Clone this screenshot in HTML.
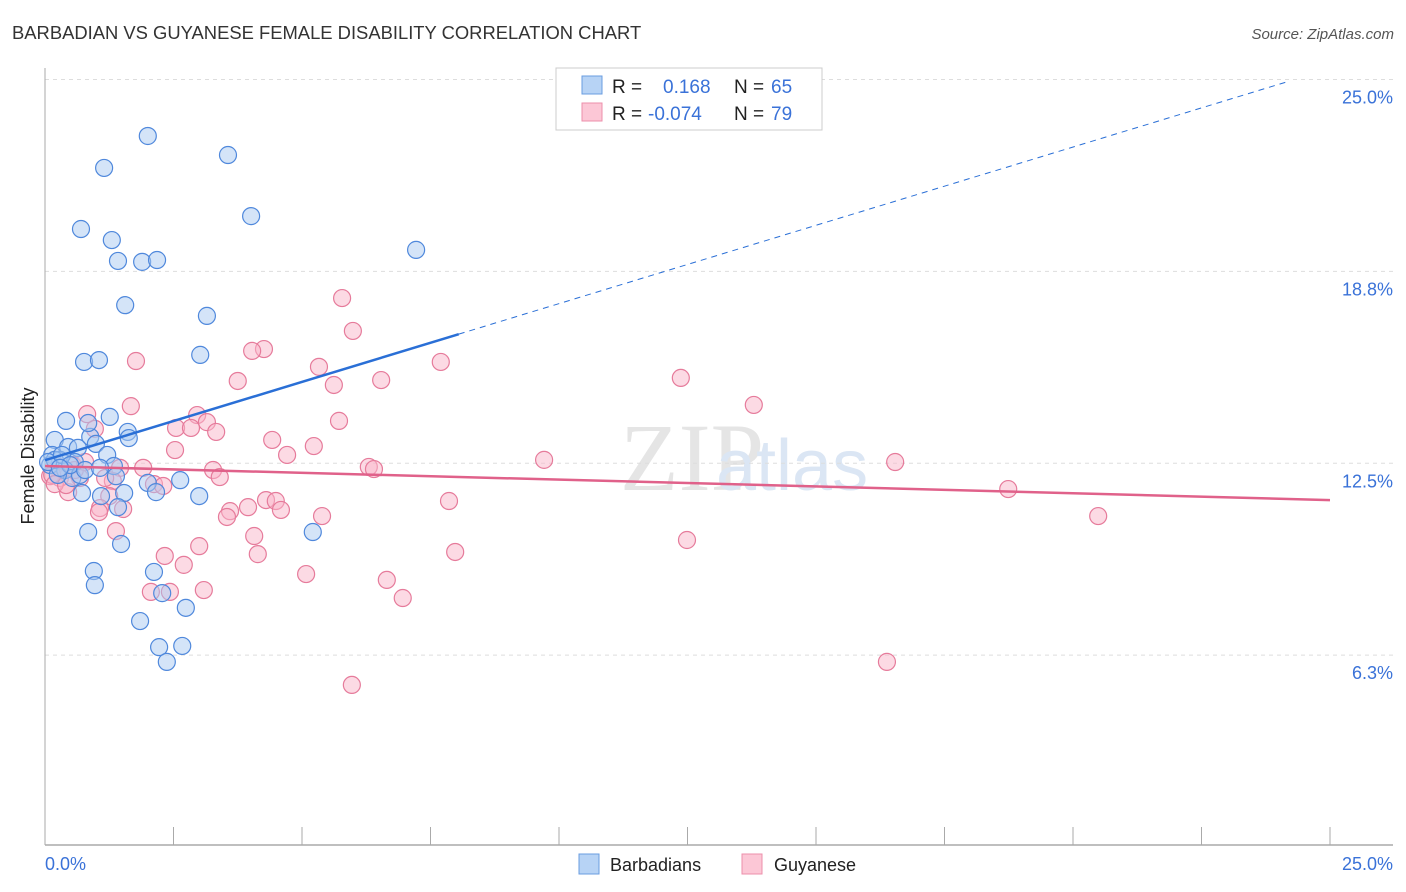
<!DOCTYPE html>
<html><head><meta charset="utf-8"><style>
body{margin:0;background:#fff;font-family:"Liberation Sans",sans-serif}
svg{display:block}
</style></head><body>
<svg id="c" width="1406" height="892" xmlns="http://www.w3.org/2000/svg">
<text x="12" y="39" font-size="18.4" fill="#333">BARBADIAN VS GUYANESE FEMALE DISABILITY CORRELATION CHART</text>
<text x="1394" y="39" font-size="15" fill="#555" font-style="italic" text-anchor="end">Source: ZipAtlas.com</text>
<text x="34" y="456" font-size="18" fill="#222" text-anchor="middle" transform="rotate(-90 34 456)">Female Disability</text>
<text x="620" y="490" font-size="96" fill="#e5e5e5" font-family="Liberation Serif">ZIP</text>
<text x="716" y="490" font-size="72" fill="#dbe6f4">atlas</text>
<g id="grid"></g><g id="axes"></g><g id="pts"></g><g id="lines"></g>
<g>
<rect x="556" y="68" width="266" height="62" fill="#fff" stroke="#ccc"/>
<rect x="582" y="76" width="20" height="18" fill="#b7d3f5" stroke="#6a9de0"/>
<rect x="582" y="103" width="20" height="18" fill="#fcc7d6" stroke="#ec8fab"/>
<text x="612" y="93" font-size="19" fill="#222">R = </text><text x="663" y="93" font-size="19" fill="#3a72d8">0.168</text>
<text x="734" y="93" font-size="19" fill="#222">N = </text><text x="771" y="93" font-size="19" fill="#3a72d8">65</text>
<text x="612" y="120" font-size="19" fill="#222">R = </text><text x="648" y="120" font-size="19" fill="#3a72d8">-0.074</text>
<text x="734" y="120" font-size="19" fill="#222">N = </text><text x="771" y="120" font-size="19" fill="#3a72d8">79</text>
</g>
<g>
<rect x="579" y="854" width="20" height="20" fill="#b7d3f5" stroke="#6a9de0"/>
<text x="610" y="871" font-size="18" fill="#222">Barbadians</text>
<rect x="742" y="854" width="20" height="20" fill="#fcc7d6" stroke="#ec8fab"/>
<text x="774" y="871" font-size="18" fill="#222">Guyanese</text>
</g>
</svg>
<script>
const yTicks=[25,18.75,12.5,6.25];
const yTickLabels=["25.0%","18.8%","12.5%","6.3%"];
const xTicks=[0,2.5,5,7.5,10,12.5,15,17.5,20,22.5,25];
const bluePx=[[148,136],[104,168],[228,155],[251,216],[81,229],[112,240],[118,261],[142,262],[157,260],[416,250],[125,305],[207,316],[200,355],[84,362],[99,360],[66,421],[110,417],[90,437],[128,432],[129,438],[55,440],[68,447],[96,444],[88,423],[78,448],[107,455],[52,455],[60,460],[75,462],[114,466],[50,465],[65,470],[72,478],[80,475],[58,475],[116,476],[82,493],[101,496],[124,493],[180,480],[148,483],[156,492],[199,496],[118,507],[88,532],[121,544],[313,532],[94,571],[95,585],[154,572],[162,593],[186,608],[140,621],[159,647],[182,646],[167,662],[55,460],[48,462],[62,455],[70,465],[85,470],[60,468],[100,468]];
const pinkPx=[[342,298],[353,331],[264,349],[252,351],[136,361],[441,362],[319,367],[238,381],[381,380],[681,378],[334,385],[754,405],[131,406],[87,414],[197,415],[339,421],[207,422],[176,428],[191,428],[95,429],[216,432],[272,440],[314,446],[175,450],[287,455],[544,460],[895,462],[369,467],[374,469],[143,468],[213,470],[120,468],[56,465],[64,470],[73,465],[80,478],[220,477],[113,481],[154,484],[163,486],[68,492],[60,478],[50,476],[1008,489],[109,496],[266,500],[276,501],[449,501],[100,508],[123,509],[230,511],[227,517],[248,507],[281,510],[322,516],[99,512],[1098,516],[116,531],[254,536],[199,546],[687,540],[258,554],[455,552],[165,556],[184,565],[306,574],[387,580],[151,592],[170,592],[204,590],[403,598],[887,662],[352,685],[52,475],[75,470],[85,462],[105,478],[55,484],[66,485]];
const blueX=bluePx.map(p=>+((p[0]-45)/51.4).toFixed(2));
const blueY=bluePx.map(p=>+((847-p[1])/30.7).toFixed(2));
const pinkX=pinkPx.map(p=>+((p[0]-45)/51.4).toFixed(2));
const pinkY=pinkPx.map(p=>+((847-p[1])/30.7).toFixed(2));
const blueTrend=[12.6,25.35];
const pinkTrend=[12.41,11.3];
const X=v=>45+v*51.4, Y=v=>847-v*30.7;
const NS="http://www.w3.org/2000/svg";
function mk(t,a,parent){const e=document.createElementNS(NS,t);for(const k in a)e.setAttribute(k,a[k]);document.getElementById(parent).appendChild(e);return e;}
yTicks.forEach((t,i)=>{
 const l=mk('line',{x1:45,x2:1393,y1:Y(t),y2:Y(t),stroke:'#ddd','stroke-dasharray':'4,4'},'grid');
 
 
 const tx=mk('text',{x:1393,y:Y(t)+24,'font-size':18,fill:'#3a72d8','text-anchor':'end'},'grid');
 tx.textContent=yTickLabels[i];
 
 
});
const ax=mk('line',{x1:45,x2:1393,y1:845,y2:845,stroke:'#aaa','stroke-width':1.5},'axes');


const ay=mk('line',{x1:45,x2:45,y1:68,y2:845,stroke:'#aaa','stroke-width':1},'axes');


xTicks.forEach(t=>{
 const l=mk('line',{x1:X(t),x2:X(t),y1:827,y2:845,stroke:'#aaa'},'axes');
 
 
});
const xl0=mk('text',{x:45,y:870,'font-size':18,fill:'#3a72d8'},'axes');xl0.textContent=xTicks[0].toFixed(1)+'%';


const xl1=mk('text',{x:1393,y:870,'font-size':18,fill:'#3a72d8','text-anchor':'end'},'axes');xl1.textContent=xTicks[10].toFixed(1)+'%';


function dots(xs,ys,fill,stroke,name){
 xs.forEach((x,i)=>{
  const c=mk('circle',{cx:X(x),cy:Y(ys[i]),r:8.5,fill:fill,'fill-opacity':0.5,stroke:stroke,'stroke-width':1.2},'pts');
  
  
 });
}
dots(pinkX,pinkY,'#f9b6c9','#e67b9b','guyanese-point');
dots(blueX,blueY,'#a9c9f2','#4f88dc','barbadian-point');
const bf=x=>blueTrend[0]+(blueTrend[1]-blueTrend[0])*x/25;
const bx=8.05;
const b1=mk('line',{x1:X(0),y1:Y(bf(0)),x2:X(bx),y2:Y(bf(bx)),stroke:'#2a6fd6','stroke-width':2.5},'lines');


const b2=mk('line',{x1:X(bx),y1:Y(bf(bx)),x2:X(24.2),y2:Y(bf(24.2)),stroke:'#2a6fd6','stroke-width':1,'stroke-dasharray':'6,5'},'lines');


const p1=mk('line',{x1:X(0),y1:Y(pinkTrend[0]),x2:X(25),y2:Y(pinkTrend[1]),stroke:'#e0618a','stroke-width':2.5},'lines');


</script>
</body></html>
